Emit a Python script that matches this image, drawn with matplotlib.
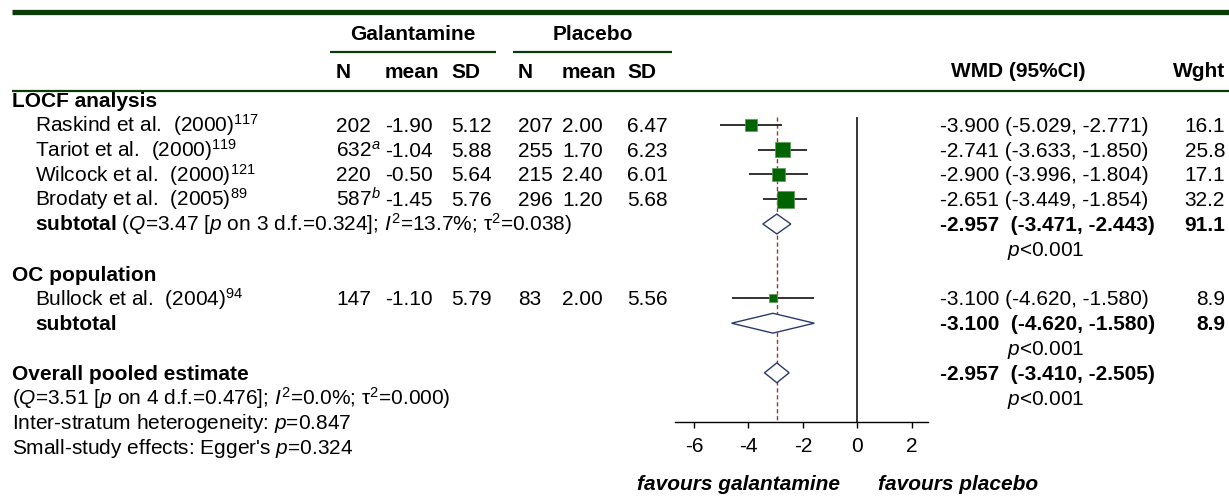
import matplotlib.pyplot as plt
from matplotlib.patches import Polygon

plt.rcParams['font.family'] = ['Liberation Sans', 'DejaVu Sans']
plt.rcParams['mathtext.fontset'] = 'custom'
plt.rcParams['mathtext.rm'] = 'Liberation Sans'
plt.rcParams['mathtext.it'] = 'Liberation Sans:italic'
plt.rcParams['mathtext.bf'] = 'Liberation Sans:bold'
plt.rcParams['axes.unicode_minus'] = False

# ---- data ----
locf_studies = ['Raskind et al.  (2000)', 'Tariot et al.  (2000)',
                'Wilcock et al.  (2000)', 'Brodaty et al.  (2005)']
locf_refs = ['117', '119', '121', '89']
locf_n_gal = [202, 632, 220, 587]
locf_n_note = ['', 'a', '', 'b']
locf_mean_gal = [-1.90, -1.04, -0.50, -1.45]
locf_sd_gal = [5.12, 5.88, 5.64, 5.76]
locf_n_pla = [207, 255, 215, 296]
locf_mean_pla = [2.00, 1.70, 2.40, 1.20]
locf_sd_pla = [6.47, 6.23, 6.01, 5.68]
locf_wmd = [-3.900, -2.741, -2.900, -2.651]
locf_lo = [-5.029, -3.633, -3.996, -3.449]
locf_hi = [-2.771, -1.850, -1.804, -1.854]
locf_wght = [16.1, 25.8, 17.1, 32.2]

oc_studies = ['Bullock et al.  (2004)']
oc_refs = ['94']
oc_n_gal = [147]
oc_n_note = ['']
oc_mean_gal = [-1.10]
oc_sd_gal = [5.79]
oc_n_pla = [83]
oc_mean_pla = [2.00]
oc_sd_pla = [5.56]
oc_wmd = [-3.100]
oc_lo = [-4.620]
oc_hi = [-1.580]
oc_wght = [8.9]

# subtotal / overall: estimate, lower, upper, weight
sub_locf = (-2.957, -3.471, -2.443, 91.1)
sub_oc = (-3.100, -4.620, -1.580, 8.9)
overall = (-2.957, -3.410, -2.505)

xticks = [-6, -4, -2, 0, 2]

# ---- layout ----
W, H = 1229, 497
FS = 15
GREEN = '#0b3a0b'
SQ = '#006400'
DIA = '#2b3a6b'
REF = '#a03535'


def ypx(r):
    return 100 + 24.8 * r


fig = plt.figure(figsize=(W / 100, H / 100), dpi=100)
ax_t = fig.add_axes([0, 0, 1, 1])
ax_t.set_xlim(0, W)
ax_t.set_ylim(H, 0)
ax_t.axis('off')


def txt(x, y, s, ha='left', **kw):
    ax_t.text(x, y + 7, s, ha=ha, va='baseline', fontsize=FS, **kw)


# rules
ax_t.plot([12, W], [12, 12], color=GREEN, lw=3.8, solid_capstyle='butt')
ax_t.plot([12, W], [91, 91], color=GREEN, lw=1.6, solid_capstyle='butt')
ax_t.plot([330, 496], [52, 52], color=GREEN, lw=1.6, solid_capstyle='butt')
ax_t.plot([513, 672], [52, 52], color=GREEN, lw=1.6, solid_capstyle='butt')

# header
txt(413, 33, 'Galantamine', ha='center', fontweight='bold')
txt(593, 33, 'Placebo', ha='center', fontweight='bold')
cols = [336, 385, 451, 518, 562, 627]
for x, h in zip(cols, ['N', 'mean', 'SD', 'N', 'mean', 'SD']):
    txt(x, 71, h, fontweight='bold')
txt(951, 70, 'WMD (95%CI)', fontweight='bold')
txt(1225, 70, 'Wght', ha='right', fontweight='bold')


def study_rows(start, names, refs, ng, notes, mg, sg, npl, mp, sp, wmd, lo, hi, wg):
    for i in range(len(names)):
        y = ypx(start + i)
        txt(35, y, names[i] + '$^{' + refs[i] + '}$')
        n_str = str(ng[i]) + ('$^{' + notes[i] + '}$' if notes[i] else '')
        vals = [n_str, '%.2f' % mg[i], '%.2f' % sg[i],
                str(npl[i]), '%.2f' % mp[i], '%.2f' % sp[i]]
        for x, v in zip(cols, vals):
            txt(x, y, v)
        txt(940, y, '%.3f (%.3f, %.3f)' % (wmd[i], lo[i], hi[i]))
        txt(1225, y, '%.1f' % wg[i], ha='right')


txt(12, ypx(0), 'LOCF analysis', fontweight='bold')
study_rows(1, locf_studies, locf_refs, locf_n_gal, locf_n_note, locf_mean_gal,
           locf_sd_gal, locf_n_pla, locf_mean_pla, locf_sd_pla,
           locf_wmd, locf_lo, locf_hi, locf_wght)
txt(35, ypx(5), r'$\mathbf{subtotal}$ ($Q$=3.47 [$p$ on 3 d.f.=0.324]; '
    r'$I^{2}$=13.7%; τ$^{2}$=0.038)')
txt(940, ypx(5), '%.3f  (%.3f, %.3f)' % sub_locf[:3], fontweight='bold')
txt(1225, ypx(5), '%.1f' % sub_locf[3], ha='right', fontweight='bold')
txt(1007, ypx(6), '$p$<0.001')

txt(12, ypx(7), 'OC population', fontweight='bold')
study_rows(8, oc_studies, oc_refs, oc_n_gal, oc_n_note, oc_mean_gal,
           oc_sd_gal, oc_n_pla, oc_mean_pla, oc_sd_pla,
           oc_wmd, oc_lo, oc_hi, oc_wght)
txt(35, ypx(9), 'subtotal', fontweight='bold')
txt(940, ypx(9), '%.3f  (%.3f, %.3f)' % sub_oc[:3], fontweight='bold')
txt(1225, ypx(9), '%.1f' % sub_oc[3], ha='right', fontweight='bold')
txt(1007, ypx(10), '$p$<0.001')

txt(12, ypx(11), 'Overall pooled estimate', fontweight='bold')
txt(940, ypx(11), '%.3f  (%.3f, %.3f)' % overall, fontweight='bold')
txt(1007, ypx(12), '$p$<0.001')
txt(12, ypx(12), r'($Q$=3.51 [$p$ on 4 d.f.=0.476]; $I^{2}$=0.0%; τ$^{2}$=0.000)')
txt(12, ypx(13), 'Inter-stratum heterogeneity: $p$=0.847')
txt(12, ypx(14), "Small-study effects: Egger's $p$=0.324")

txt(840, 483, 'favours galantamine', ha='right', fontweight='bold', style='italic')
txt(878, 483, 'favours placebo', fontweight='bold', style='italic')

# ---- forest axes ----
ax_left, ax_right, ax_bot = 675, 928, 422
ax = fig.add_axes([ax_left / W, (H - ax_bot) / H, (ax_right - ax_left) / W, ax_bot / H])
ax.patch.set_alpha(0)
ax.set_xlim(-6.7, 2.6)
r_bot = (ax_bot - 100) / 24.8
r_top = -100 / 24.8
ax.set_ylim(r_bot, r_top)
for s in ['left', 'right', 'top']:
    ax.spines[s].set_visible(False)
ax.spines['bottom'].set_linewidth(1.0)
ax.set_yticks([])
ax.set_xticks(xticks)
ax.set_xticklabels([str(t) for t in xticks])
ax.tick_params(axis='x', length=4.5, width=1.0, labelsize=FS, pad=6.5)

line_top = (117 - 100) / 24.8
ax.vlines(0, line_top, r_bot, color='black', lw=1.1)
ax.vlines(overall[0], line_top, r_bot, color=REF, lw=1.0, linestyles=(0, (3, 2)))


def draw_studies(start, wmd, lo, hi, wg):
    rows = [start + i for i in range(len(wmd))]
    ax.hlines(rows, lo, hi, color='#222222', lw=1.3, zorder=2)
    sizes = [(0.72 * 3.0 * w ** 0.5) ** 2 for w in wg]
    ax.scatter(wmd, rows, s=sizes, marker='s', color=SQ,
               edgecolors='#5a9a5a', linewidths=0.5, zorder=3)


def diamond(r, est, lo, hi, h=0.4):
    ax.add_patch(Polygon([(lo, r), (est, r - h), (hi, r), (est, r + h)],
                         closed=True, facecolor='white', edgecolor=DIA,
                         lw=1.0, zorder=2))


draw_studies(1, locf_wmd, locf_lo, locf_hi, locf_wght)
draw_studies(8, oc_wmd, oc_lo, oc_hi, oc_wght)
diamond(5, *sub_locf[:3])
diamond(9, *sub_oc[:3])
diamond(11, *overall)

fig.savefig('out.png', dpi=100)
